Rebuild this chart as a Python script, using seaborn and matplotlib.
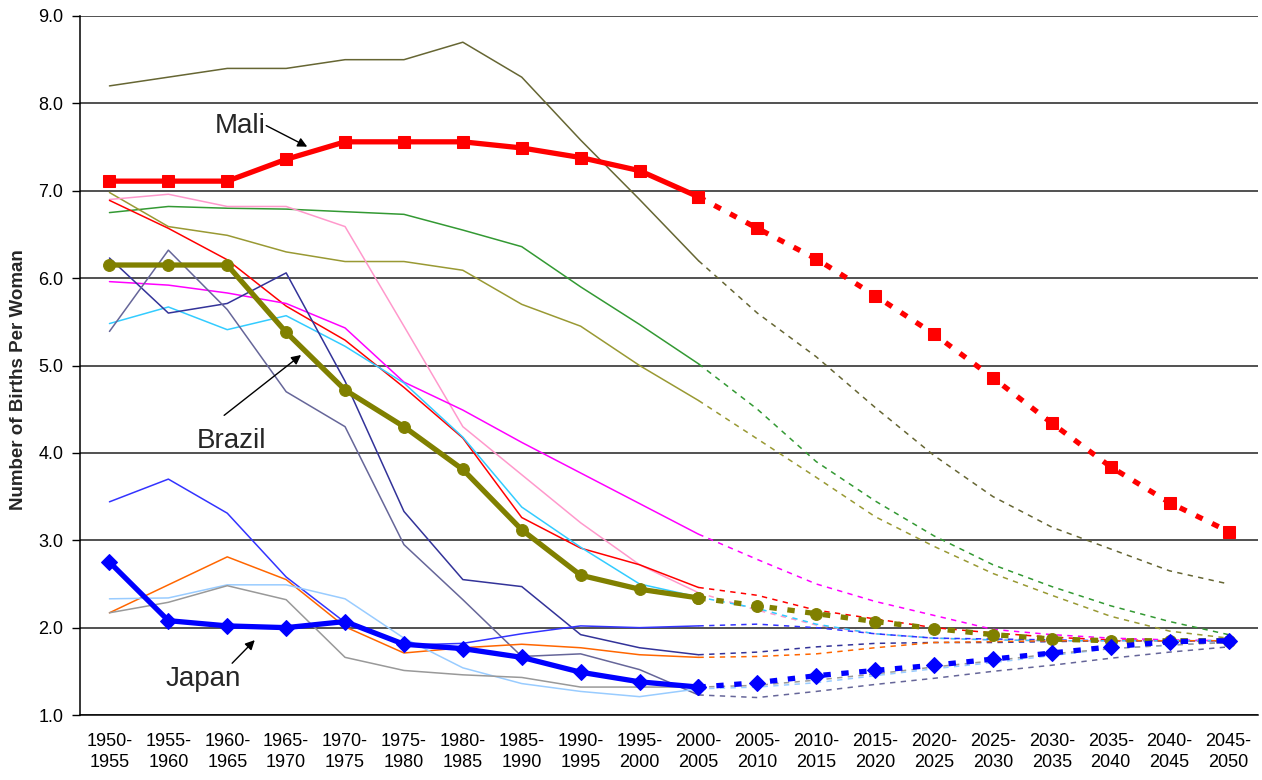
import numpy as np
import pandas as pd
import matplotlib
matplotlib.use("Agg")
import matplotlib.pyplot as plt
import seaborn as sns

# periods on the x axis
periods = ["1950-\n1955", "1955-\n1960", "1960-\n1965", "1965-\n1970", "1970-\n1975",
           "1975-\n1980", "1980-\n1985", "1985-\n1990", "1990-\n1995", "1995-\n2000",
           "2000-\n2005", "2005-\n2010", "2010-\n2015", "2015-\n2020", "2020-\n2025",
           "2025-\n2030", "2030-\n2035", "2035-\n2040", "2040-\n2045", "2045-\n2050"]

# highlighted countries
mali = [7.11, 7.11, 7.11, 7.36, 7.56, 7.56, 7.56, 7.49, 7.38, 7.23, 6.93,
        6.57, 6.22, 5.80, 5.36, 4.86, 4.34, 3.84, 3.43, 3.10]
brazil = [6.15, 6.15, 6.15, 5.38, 4.72, 4.30, 3.81, 3.12, 2.60, 2.44, 2.34,
          2.25, 2.16, 2.07, 1.99, 1.92, 1.87, 1.85, 1.85, 1.85]
japan = [2.75, 2.08, 2.02, 2.00, 2.07, 1.81, 1.76, 1.66, 1.49, 1.38, 1.32,
         1.37, 1.45, 1.51, 1.57, 1.64, 1.71, 1.78, 1.84, 1.85]

# other countries (thin lines)
c_darkolive = [8.2, 8.3, 8.4, 8.4, 8.5, 8.5, 8.7, 8.3, 7.58, 6.9, 6.2,
               5.6, 5.1, 4.52, 3.97, 3.5, 3.15, 2.9, 2.65, 2.5]
c_green = [6.75, 6.82, 6.80, 6.79, 6.76, 6.73, 6.55, 6.36, 5.90, 5.47, 5.02,
           4.5, 3.9, 3.45, 3.05, 2.72, 2.47, 2.25, 2.07, 1.92]
c_olive = [6.98, 6.59, 6.49, 6.30, 6.19, 6.19, 6.09, 5.70, 5.45, 5.0, 4.6,
           4.16, 3.72, 3.27, 2.93, 2.62, 2.37, 2.13, 1.96, 1.88]
c_pink = [6.9, 6.96, 6.82, 6.82, 6.59, 5.45, 4.30, 3.75, 3.2, 2.72, 2.40,
          2.2, 2.03, 1.93, 1.88, 1.86, 1.85, 1.85, 1.85, 1.85]
c_red = [6.89, 6.57, 6.21, 5.68, 5.29, 4.75, 4.17, 3.26, 2.91, 2.72, 2.46,
         2.37, 2.2, 2.1, 2.0, 1.94, 1.89, 1.86, 1.85, 1.85]
c_magenta = [5.96, 5.92, 5.83, 5.71, 5.43, 4.81, 4.49, 4.12, 3.77, 3.42, 3.07,
             2.78, 2.5, 2.3, 2.14, 1.98, 1.92, 1.88, 1.86, 1.85]
c_cyan = [5.48, 5.67, 5.41, 5.57, 5.22, 4.8, 4.18, 3.38, 2.92, 2.50, 2.35,
          2.22, 2.04, 1.93, 1.88, 1.86, 1.85, 1.85, 1.85, 1.85]
c_navy = [6.23, 5.60, 5.71, 6.06, 4.82, 3.33, 2.55, 2.47, 1.92, 1.77, 1.69,
          1.72, 1.78, 1.82, 1.83, 1.83, 1.84, 1.85, 1.85, 1.85]
c_slate = [5.39, 6.32, 5.64, 4.70, 4.30, 2.95, 2.32, 1.67, 1.70, 1.52, 1.23,
           1.2, 1.27, 1.35, 1.42, 1.5, 1.57, 1.65, 1.72, 1.78]
c_blue = [3.44, 3.70, 3.31, 2.58, 2.06, 1.80, 1.82, 1.93, 2.02, 2.0, 2.02,
          2.04, 2.0, 1.93, 1.88, 1.87, 1.86, 1.85, 1.85, 1.85]
c_orange = [2.17, 2.49, 2.81, 2.55, 2.01, 1.71, 1.77, 1.81, 1.77, 1.69, 1.66,
            1.67, 1.70, 1.77, 1.83, 1.84, 1.85, 1.85, 1.85, 1.85]
c_lightblue = [2.33, 2.34, 2.49, 2.49, 2.33, 1.88, 1.54, 1.36, 1.27, 1.21, 1.30,
               1.32, 1.37, 1.45, 1.53, 1.6, 1.68, 1.76, 1.8, 1.84]
c_gray = [2.17, 2.29, 2.48, 2.32, 1.66, 1.51, 1.46, 1.43, 1.32, 1.32, 1.32,
          1.34, 1.40, 1.47, 1.55, 1.62, 1.7, 1.76, 1.8, 1.83]

thin = [
    (c_darkolive, "#666633"), (c_green, "#339933"), (c_olive, "#999933"),
    (c_pink, "#FF99CC"), (c_red, "#FF0000"), (c_magenta, "#FF00FF"),
    (c_cyan, "#33CCFF"), (c_navy, "#333399"), (c_slate, "#666699"),
    (c_blue, "#3333FF"), (c_orange, "#FF6600"), (c_lightblue, "#99CCFF"),
    (c_gray, "#999999"),
]
bold = [
    (mali, "#FF0000", "s", 8.5),
    (brazil, "#808000", "o", 8.5),
    (japan, "#0000FF", "D", 8.0),
]

LAST_EST = 10  # 2000-2005 is the last estimated period

sns.set_style("white")
plt.rcParams["font.family"] = ["Liberation Sans", "DejaVu Sans"]

fig, ax = plt.subplots(figsize=(12.62, 7.8), dpi=100)
fig.subplots_adjust(left=0.0634, right=0.9968, bottom=0.0833, top=0.9795)

idx = np.arange(len(periods))


def split(vals):
    df = pd.DataFrame({"x": idx, "y": vals})
    return df[df.x <= LAST_EST], df[df.x >= LAST_EST]


for vals, col in thin:
    est, proj = split(vals)
    sns.lineplot(data=est, x="x", y="y", color=col, lw=1.1, errorbar=None, ax=ax, zorder=3)
    sns.lineplot(data=proj, x="x", y="y", color=col, lw=1.1, errorbar=None, ax=ax,
                 linestyle=(0, (3.5, 3.5)), zorder=3)

for vals, col, mk, ms in bold:
    est, proj = split(vals)
    sns.lineplot(data=est, x="x", y="y", color=col, lw=3.8, marker=mk, markersize=ms,
                 markeredgecolor=col, errorbar=None, ax=ax, zorder=5)
    sns.lineplot(data=proj, x="x", y="y", color=col, lw=3.8, marker=mk, markersize=ms,
                 markeredgecolor=col, linestyle=(0, (1.4, 2.0)), errorbar=None,
                 ax=ax, zorder=5)

ax.set_xlim(-0.5, len(periods) - 0.5)
ax.set_ylim(1.0, 9.0)
ax.set_yticks(np.arange(1, 10))
ax.set_yticklabels([f"{v:.1f}" for v in np.arange(1, 10)])
ax.set_xticks(idx)
ax.set_xticklabels(periods, linespacing=1.3)
ax.set_xticks(np.arange(-0.5, len(periods)), minor=True)
ax.tick_params(axis="x", which="major", length=0, pad=13, labelsize=13, colors="black")
ax.tick_params(axis="x", which="minor", length=6, width=1, direction="out", color="black")
ax.tick_params(axis="y", length=6, width=1, direction="out", pad=6, labelsize=13,
               colors="black", left=True)

ax.set_axisbelow(True)
ax.yaxis.grid(True, color="#222222", lw=1.1)
ax.xaxis.grid(False)
for s in ["top", "right"]:
    ax.spines[s].set_visible(False)
for s in ["left", "bottom"]:
    ax.spines[s].set_color("black")
    ax.spines[s].set_linewidth(1.1)

ax.set_xlabel("")
ax.set_ylabel("Number of Births Per Woman", fontsize=13.5, fontweight="bold")
ax.yaxis.set_label_coords(-0.045, 0.48)

# labels with arrows
arrow = dict(arrowstyle="-|>", color="black", lw=1.0, mutation_scale=14)
ax.text(2.22, 7.74, "Mali", fontsize=20, ha="center", va="center")
ax.annotate("", xy=(3.40, 7.49), xytext=(2.62, 7.76), arrowprops=arrow, zorder=6)
ax.text(2.08, 4.14, "Brazil", fontsize=20, ha="center", va="center")
ax.annotate("", xy=(3.29, 5.14), xytext=(1.91, 4.41), arrowprops=arrow, zorder=6)
ax.text(1.60, 1.41, "Japan", fontsize=20, ha="center", va="center")
ax.annotate("", xy=(2.50, 1.88), xytext=(2.05, 1.57), arrowprops=arrow, zorder=6)

fig.savefig("out.png", dpi=100)
